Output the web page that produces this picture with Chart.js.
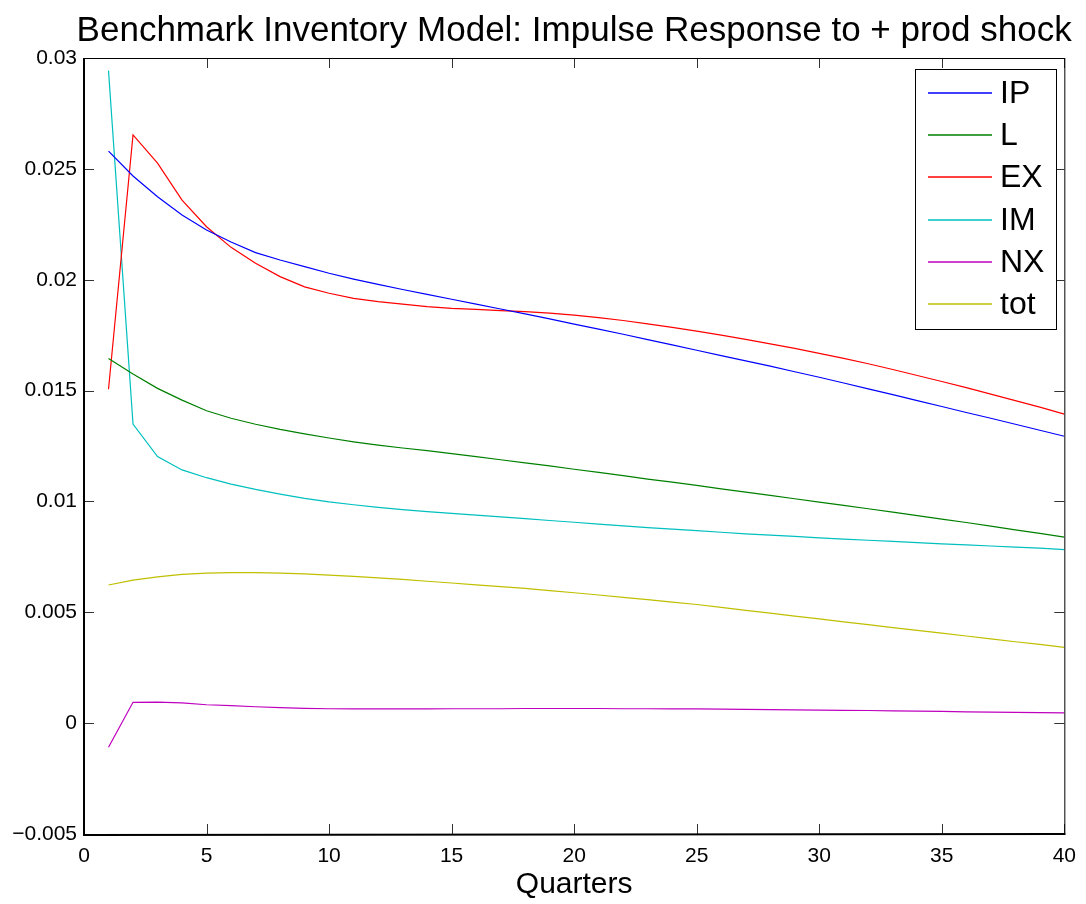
<!DOCTYPE html>
<html>
<head>
<meta charset="utf-8">
<script src="https://cdn.jsdelivr.net/npm/chart.js@4.4.0/dist/chart.umd.min.js"></script>
<style>
  html, body { margin: 0; padding: 0; background: #fff; }
  #wrap { width: 1086px; height: 904px; }
</style>
</head>
<body>
<div id="wrap"><canvas id="chart" width="1086" height="904"></canvas></div>
<script>
// quarters 1..40
const quarters = [1,2,3,4,5,6,7,8,9,10,11,12,13,14,15,16,17,18,19,20,
                  21,22,23,24,25,26,27,28,29,30,31,32,33,34,35,36,37,38,39,40];

const ipValues = [0.0258,0.02468,0.02374,0.02292,0.02224,0.0217,0.02122,0.02089,0.02059,0.02029,
                  0.02003,0.01979,0.01956,0.01934,0.01912,0.0189,0.01868,0.01846,0.01823,0.018,
                  0.01777,0.01754,0.0173,0.01706,0.01682,0.01658,0.01634,0.0161,0.01585,0.0156,
                  0.01534,0.01508,0.01482,0.01455,0.01428,0.01401,0.01375,0.01348,0.01321,0.01294];
const lValues = [0.01645,0.01575,0.0151,0.01457,0.01409,0.01375,0.01348,0.01325,0.01305,0.01286,
                 0.01269,0.01254,0.01241,0.01229,0.01216,0.01202,0.01188,0.01174,0.0116,0.01145,
                 0.01131,0.01116,0.01101,0.01087,0.01072,0.01057,0.01042,0.01027,0.01012,0.00997,
                 0.00982,0.00967,0.00952,0.00936,0.0092,0.00905,0.00889,0.00872,0.00856,0.00839];
const exValues = [0.01506,0.02653,0.02526,0.02359,0.02239,0.02146,0.02074,0.02014,0.01968,0.01939,
                  0.01916,0.01901,0.0189,0.01879,0.01871,0.01866,0.01861,0.01856,0.01849,0.0184,
                  0.01829,0.01816,0.01801,0.01785,0.01768,0.0175,0.01731,0.01711,0.0169,0.01668,
                  0.01645,0.01621,0.01595,0.01568,0.01541,0.01513,0.01484,0.01455,0.01425,0.01394];
const imValues = [0.02943,0.01349,0.01202,0.01142,0.01107,0.01078,0.01054,0.01033,0.01014,0.00998,
                  0.00985,0.00973,0.00963,0.00954,0.00946,0.00938,0.0093,0.00922,0.00914,0.00906,
                  0.00898,0.0089,0.00882,0.00875,0.00868,0.00861,0.00854,0.00848,0.00842,0.00836,
                  0.0083,0.00825,0.0082,0.00814,0.00809,0.00804,0.00799,0.00794,0.00789,0.00783];
const nxValues = [-0.00109,0.00094,0.00095,0.00091,0.00083,0.00079,0.00074,0.0007,0.00067,0.00065,
                  0.00064,0.00064,0.00064,0.00064,0.00065,0.00065,0.00065,0.00066,0.00066,0.00066,
                  0.00066,0.00065,0.00065,0.00064,0.00064,0.00063,0.00062,0.00061,0.0006,0.00059,
                  0.00058,0.00057,0.00055,0.00054,0.00053,0.00051,0.0005,0.00049,0.00047,0.00046];
const totValues = [0.00623,0.00645,0.0066,0.00671,0.00677,0.00679,0.00679,0.00677,0.00673,0.00668,
                   0.00662,0.00655,0.00648,0.0064,0.00632,0.00624,0.00616,0.00608,0.00598,0.00588,
                   0.00578,0.00567,0.00557,0.00546,0.00535,0.00522,0.00509,0.00496,0.00483,0.0047,
                   0.00457,0.00444,0.00431,0.00418,0.00406,0.00393,0.0038,0.00367,0.00355,0.00342];

const seriesNames = ['IP', 'L', 'EX', 'IM', 'NX', 'tot'];
const seriesColors = ['#0000ff', '#008000', '#ff0000', '#00bfbf', '#bf00bf', '#bfbf00'];
const allSeries = [ipValues, lValues, exValues, imValues, nxValues, totValues];

const xTickLabels = ['0','5','10','15','20','25','30','35','40'];
const yTickLabels = ['\u22120.005','0','0.005','0.01','0.015','0.02','0.025','0.03'];

const titleText = 'Benchmark Inventory Model: Impulse Response to + prod shock';
const xAxisTitle = 'Quarters';
const FONT = '"Liberation Sans", Arial, Helvetica, sans-serif';

// box, inward ticks, title and legend drawn like a matlab figure
const matlabFrame = {
    id: 'matlabFrame',
    afterDraw(chart) {
        const ctx = chart.ctx;
        const a = chart.chartArea;
        const xs = chart.scales.x, ys = chart.scales.y;
        ctx.save();

        // ticks pointing inside
        ctx.strokeStyle = '#333';
        ctx.lineWidth = 1;
        ctx.beginPath();
        xs.ticks.forEach(t => {
            const px = Math.round(xs.getPixelForValue(t.value)) + 0.5;
            ctx.moveTo(px, a.bottom); ctx.lineTo(px, a.bottom - 10);
            ctx.moveTo(px, a.top); ctx.lineTo(px, a.top + 10);
        });
        ys.ticks.forEach(t => {
            const py = Math.round(ys.getPixelForValue(t.value)) + 0.5;
            ctx.moveTo(a.left, py); ctx.lineTo(a.left + 10, py);
            ctx.moveTo(a.right, py); ctx.lineTo(a.right - 10, py);
        });
        ctx.stroke();

        // axes box
        ctx.strokeStyle = '#000';
        ctx.lineWidth = 1;
        ctx.strokeRect(a.left + 0.5, a.top + 0.5, a.right - a.left, a.bottom - a.top);
        ctx.lineWidth = 2;
        ctx.beginPath();
        ctx.moveTo(a.left, a.top); ctx.lineTo(a.left, a.bottom + 1); ctx.lineTo(a.right + 1, a.bottom);
        ctx.stroke();

        // title
        ctx.fillStyle = '#000';
        ctx.font = '35px ' + FONT;
        ctx.textAlign = 'center';
        ctx.textBaseline = 'alphabetic';
        ctx.fillText(titleText, (a.left + a.right) / 2, 41);

        // legend
        const lx = 915, ly = 69, lw = 141, lh = 260;
        ctx.fillStyle = '#fff';
        ctx.fillRect(lx, ly, lw, lh);
        ctx.strokeStyle = '#000';
        ctx.lineWidth = 1;
        ctx.strokeRect(lx + 0.5, ly + 0.5, lw, lh);
        ctx.font = '32px ' + FONT;
        ctx.textAlign = 'left';
        ctx.textBaseline = 'middle';
        chart.data.datasets.forEach((ds, i) => {
            const y = Math.round(ly + 24 + i * 42.2);
            ctx.strokeStyle = ds.borderColor;
            ctx.lineWidth = 1.5;
            ctx.beginPath();
            ctx.moveTo(928, y);
            ctx.lineTo(992, y);
            ctx.stroke();
            ctx.fillStyle = '#000';
            ctx.fillText(ds.label, 1000, y + 1);
        });
        ctx.restore();
    }
};

const ctx = document.getElementById('chart').getContext('2d');
const chart = new Chart(ctx, {
    type: 'line',
    data: {
        datasets: allSeries.map((vals, i) => ({
            label: seriesNames[i],
            data: vals.map((v, k) => ({ x: quarters[k], y: v })),
            borderColor: seriesColors[i],
            backgroundColor: seriesColors[i],
            borderWidth: 1.2,
            pointRadius: 0,
            tension: 0,
            fill: false
        }))
    },
    options: {
        responsive: false,
        devicePixelRatio: 1,
        animation: false,
        layout: { padding: { left: 0, right: 19, top: 58, bottom: 0 } },
        plugins: {
            legend: { display: false },
            title: { display: false },
            tooltip: { enabled: false }
        },
        scales: {
            x: {
                type: 'linear',
                min: 0, max: 40,
                grid: { display: false, drawTicks: false },
                border: { display: false },
                ticks: {
                    stepSize: 5,
                    padding: 10,
                    color: '#000',
                    font: { family: FONT, size: 21 },
                    maxRotation: 0,
                    callback: (v, i) => xTickLabels[i]
                },
                title: {
                    display: true,
                    text: xAxisTitle,
                    color: '#000',
                    font: { family: FONT, size: 30 },
                    padding: { top: 0, bottom: 1 }
                },
                afterFit(scale) { scale.height = 70; }
            },
            y: {
                min: -0.005, max: 0.03,
                grid: { display: false, drawTicks: false },
                border: { display: false },
                ticks: {
                    stepSize: 0.005,
                    padding: 7,
                    color: '#000',
                    font: { family: FONT, size: 21 },
                    callback: (v, i) => yTickLabels[i]
                },
                afterFit(scale) { scale.width = 84; }
            }
        }
    },
    plugins: [matlabFrame]
});
</script>
</body>
</html>
